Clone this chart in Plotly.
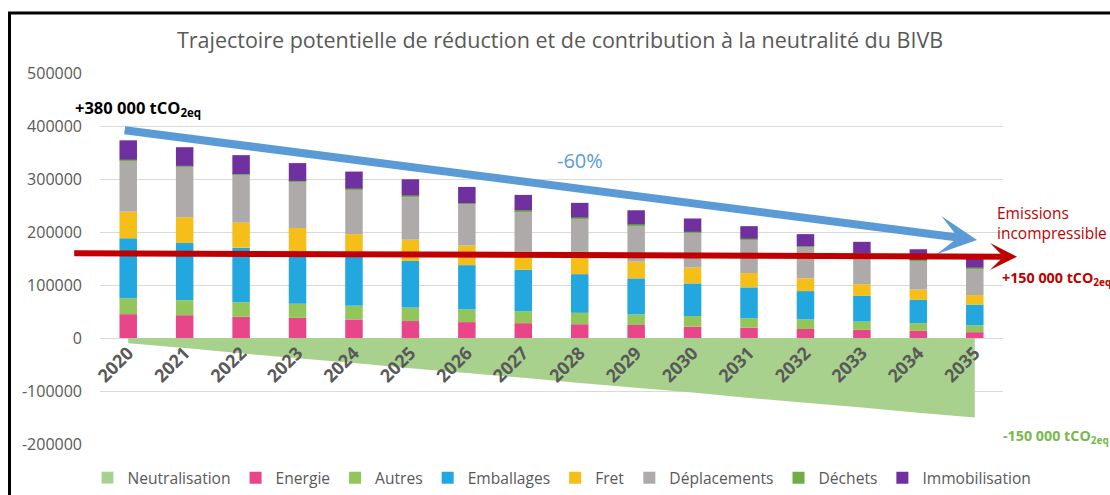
import plotly.graph_objects as go

years = [str(y) for y in range(2020, 2036)]

neutralisation = [-10000, -19000, -29000, -38000, -47000, -57000, -66000, -75000,
                  -85000, -94000, -103000, -113000, -122000, -131000, -141000, -150000]
energie = [45000, 43000, 40000, 38000, 35000, 32000, 30000, 28000,
           26000, 24500, 21500, 19500, 17000, 15500, 14000, 11000]
autres = [30000, 28500, 27500, 26500, 26000, 25500, 24000, 22500,
          21500, 20000, 20000, 18000, 18000, 15500, 14000, 13000]
emballages = [113000, 108000, 103000, 98000, 93000, 88000, 83500, 78500,
              73000, 68000, 61500, 58000, 53500, 48500, 44000, 39000]
fret = [50000, 48500, 47000, 45000, 42000, 40000, 37000, 34000,
        32500, 31500, 30000, 27000, 24000, 22000, 19500, 18000]
deplacements = [97000, 95500, 90500, 87500, 84500, 82000, 78500, 76500,
                73000, 69000, 66000, 63500, 59500, 57500, 54500, 50500]
dechets = [1500, 1500, 1500, 1500, 1500, 1500, 1500, 1500,
           1500, 1500, 1500, 1500, 1500, 1500, 1500, 1500]
immobilisation = [36500, 35000, 35500, 33500, 32000, 30500, 30500, 29000,
                  27500, 26500, 25000, 23500, 22500, 21000, 20000, 18000]

y_ticks = [-200000, -100000, 0, 100000, 200000, 300000, 400000, 500000]
y_tick_labels = ["-200000", "-100000", "0", "100000", "200000", "300000", "400000", "500000"]

bar_series = [
    ("Energie", energie, "#E9468A"),
    ("Autres", autres, "#92C55A"),
    ("Emballages", emballages, "#22A7DE"),
    ("Fret", fret, "#F5BE18"),
    ("Déplacements", deplacements, "#AEAAAA"),
    ("Déchets", dechets, "#70AD47"),
    ("Immobilisation", immobilisation, "#7030A0"),
]
NEUTRAL_COLOR = "#A9D18E"

FONT = "'Open Sans', sans-serif"
GREY = "#595959"

fig = go.Figure()
# legend entry (square symbol) for the neutralisation area
fig.add_trace(go.Bar(x=[None], y=[None], name="Neutralisation", marker_color=NEUTRAL_COLOR,
                     legendgroup="neutral"))
fig.add_trace(go.Scatter(x=years, y=neutralisation, name="Neutralisation", mode="none",
                         fill="tozeroy", fillcolor=NEUTRAL_COLOR, showlegend=False,
                         legendgroup="neutral"))
for name, vals, col in bar_series:
    fig.add_trace(go.Bar(x=years, y=vals, name=name, marker_color=col,
                         marker_line_width=0))

W, H = 1110, 495
L, R, T, B = 100, 107, 73, 51
PW, PH = W - L - R, H - T - B


def px(xp):
    return (xp - L) / PW


def py(yp):
    return (H - B - yp) / PH


fig.update_layout(
    width=W, height=H,
    margin=dict(l=L, r=R, t=T, b=B, autoexpand=False),
    paper_bgcolor="white", plot_bgcolor="white",
    barmode="relative", bargap=0.69,
    font=dict(family=FONT, color=GREY, size=15),
    title=dict(text="Trajectoire potentielle de réduction et de contribution à la neutralité du BIVB",
               x=560 / W, xref="container", xanchor="center",
               y=1 - 40 / H, yref="container", yanchor="middle",
               font=dict(family=FONT, size=21.5, color=GREY)),
    legend=dict(orientation="h", x=px(87.5), xanchor="left", y=py(478), yanchor="middle",
                font=dict(family=FONT, size=15.6, color=GREY), traceorder="normal",
                itemwidth=30, bgcolor="rgba(0,0,0,0)"),
    showlegend=True,
)

fig.update_yaxes(range=[-200000, 500000], tickvals=y_ticks, ticktext=y_tick_labels,
                 showgrid=True, gridcolor="#D9D9D9", gridwidth=1,
                 zeroline=True, zerolinecolor="#D9D9D9", zerolinewidth=1,
                 tickfont=dict(family=FONT, size=16, color=GREY), ticks="", showline=False,
                 ticklabelstandoff=17, fixedrange=True)
fig.update_xaxes(type="category", range=[-0.5, 15.5], anchor="free",
                 position=200000 / 700000, tickangle=-45,
                 tickfont=dict(family=FONT, size=18, color=GREY, weight="bold"),
                 showgrid=False, showline=False, ticks="", zeroline=False)

# Decorative arrows
fig.add_annotation(x=15.04, y=184900, ax=-0.09, ay=392450, xref="x", yref="y",
                   axref="x", ayref="y", showarrow=True, arrowhead=3, arrowsize=0.8,
                   arrowwidth=8, arrowcolor="#5B9BD5", text="")
fig.add_annotation(x=px(1017), y=py(256.7), xref="paper", yref="paper",
                   ax=72.7 - 1017, ay=-3.4, showarrow=True, arrowhead=3, arrowsize=0.75,
                   arrowwidth=6, arrowcolor="#C00000", text="")

# Text annotations
fig.add_annotation(x=px(73), y=py(108), xref="paper", yref="paper", xanchor="left", yanchor="middle",
                   showarrow=False, text="<b>+380 000 tCO<sub>2eq</sub></b>",
                   font=dict(family=FONT, size=16.5, color="black"))
fig.add_annotation(x=8.0, y=335800, xref="x", yref="y", xanchor="center", yanchor="middle",
                   showarrow=False, text="-60%",
                   font=dict(family=FONT, size=20, color="#5B9BD5"))
fig.add_annotation(x=px(995), y=py(222.5), xref="paper", yref="paper", xanchor="left", yanchor="middle",
                   showarrow=False, align="left", text="Emissions<br>incompressible",
                   font=dict(family=FONT, size=15.5, color="#C00000"))
fig.add_annotation(x=px(1000), y=py(278), xref="paper", yref="paper", xanchor="left", yanchor="middle",
                   showarrow=False, text="<b>+150 000 tCO<sub>2eq</sub></b>",
                   font=dict(family=FONT, size=14.3, color="#C00000"))
fig.add_annotation(x=px(1001), y=py(436.5), xref="paper", yref="paper", xanchor="left", yanchor="middle",
                   showarrow=False, text="<b>-150 000 tCO<sub>2eq</sub></b>",
                   font=dict(family=FONT, size=14.3, color="#78B84E"))

# Outer frame
fig.add_shape(type="rect", xref="paper", yref="paper",
              x0=px(9.5), x1=px(1120), y0=py(510), y1=py(13),
              line=dict(color="black", width=3), fillcolor="rgba(0,0,0,0)", layer="above")

fig.write_html("out.html", config={"displayModeBar": False},
               post_script="document.body.style.margin='0px';")
